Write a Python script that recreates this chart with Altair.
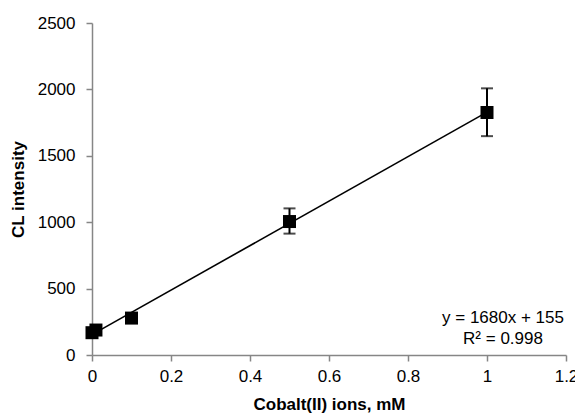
import altair as alt
import pandas as pd

# Data
conc = [0.0, 0.01, 0.1, 0.5, 1.0]
intensity = [168, 188, 278, 1005, 1826]
err_low = [168, 188, 278, 914, 1648]
err_high = [168, 188, 278, 1104, 2008]

eq_line1 = "y = 1680x + 155"
eq_line2 = "R² = 0.998"

df = pd.DataFrame({"x": conc, "y": intensity, "lo": err_low, "hi": err_high})
df_err = df[df["hi"] > df["lo"]]

FONT = "Liberation Sans"
GREY = "#868686"
FS = 17
NBSP = "\u00a0"

xscale = alt.Scale(domain=[0, 1.2], nice=False, zero=True)
yscale = alt.Scale(domain=[0, 2500], nice=False)

xaxis = alt.Axis(values=[0, 0.2, 0.4, 0.6, 0.8, 1.0, 1.2], format="~g", title="Cobalt(II) ions, mM",
                 grid=False, labelFont=FONT, labelFontSize=FS, labelColor="black",
                 titleFont=FONT, titleFontSize=FS, titleFontWeight="bold", titleColor="black",
                 domainColor=GREY, domainWidth=1.5, tickColor=GREY, tickWidth=1.5, tickSize=6,
                 labelPadding=7, titlePadding=12, labelFlush=False,
                 labelExpr="datum.value >= 1.15 ? datum.label + '" + NBSP + NBSP + "' : datum.label")
yaxis = alt.Axis(values=[0, 500, 1000, 1500, 2000, 2500], format="d", title="CL intensity",
                 grid=False, labelFont=FONT, labelFontSize=FS, labelColor="black",
                 titleFont=FONT, titleFontSize=FS, titleFontWeight="bold", titleColor="black",
                 domainColor=GREY, domainWidth=1.5, tickColor=GREY, tickWidth=1.5, tickSize=6,
                 labelPadding=11, titlePadding=10, labelFlush=False)

base = alt.Chart(df)

trend = base.transform_regression("x", "y", extent=[0, 1]).mark_line(
    color="black", strokeWidth=1.6
).encode(x=alt.X("x:Q", scale=xscale, axis=xaxis), y=alt.Y("y:Q", scale=yscale, axis=yaxis))

rules = alt.Chart(df_err).mark_rule(color="black", strokeWidth=2).encode(
    x="x:Q", y="lo:Q", y2="hi:Q")
cap_lo = alt.Chart(df_err).mark_tick(color="black", thickness=2, size=12, orient="horizontal").encode(
    x="x:Q", y="lo:Q")
cap_hi = alt.Chart(df_err).mark_tick(color="black", thickness=2, size=12, orient="horizontal").encode(
    x="x:Q", y="hi:Q")

pts = base.mark_point(shape="square", filled=True, size=169, color="black", opacity=1).encode(
    x="x:Q", y="y:Q")

txt1 = alt.Chart(pd.DataFrame({"t": [eq_line1]})).mark_text(
    font=FONT, fontSize=FS, color="black", align="center", baseline="middle").encode(
    x=alt.value(411), y=alt.value(295), text="t:N")
txt2 = alt.Chart(pd.DataFrame({"t": [eq_line2]})).mark_text(
    font=FONT, fontSize=FS, color="black", align="center", baseline="middle").encode(
    x=alt.value(411), y=alt.value(316), text="t:N")

chart = alt.layer(trend, rules, cap_lo, cap_hi, pts, txt1, txt2).properties(
    width=474, height=332,
    autosize=alt.AutoSizeParams(type="none"),
    padding={"left": 84, "top": 15, "right": 9, "bottom": 59},
    background="white",
).configure_view(stroke=None)

chart.save("out.html", embed_options={"renderer": "svg", "actions": False})
